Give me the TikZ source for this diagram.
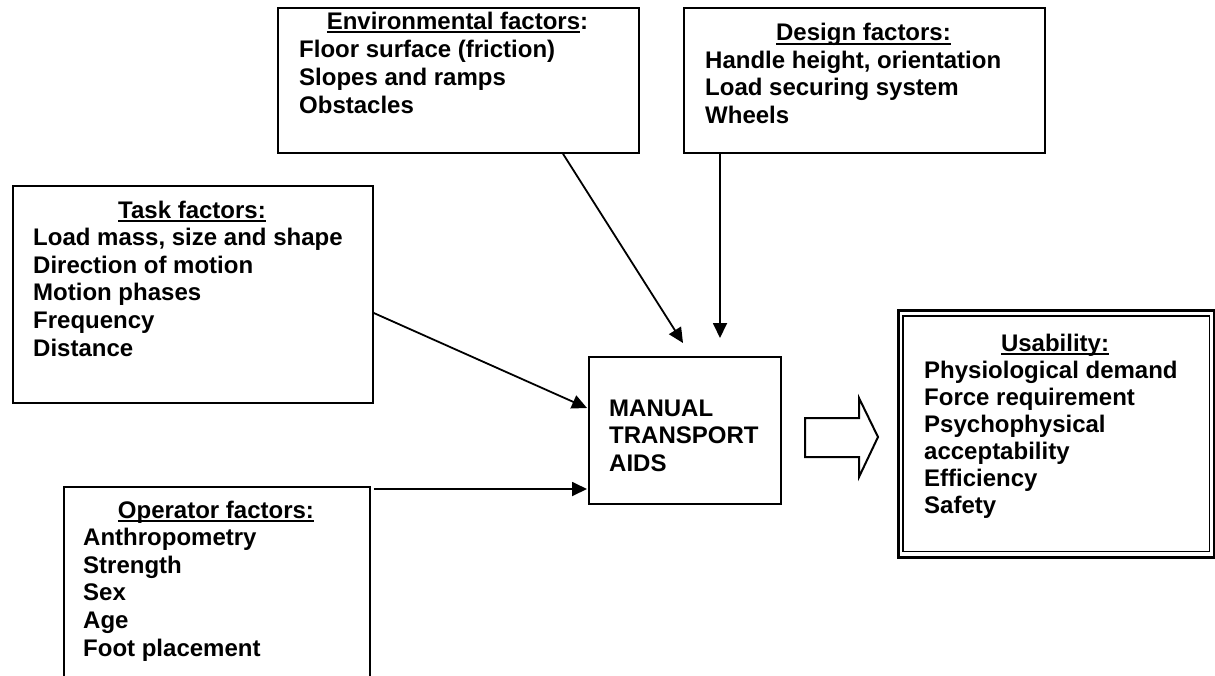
\documentclass[tikz,border=0pt]{standalone}
\usepackage{fontspec}
\setmainfont{Liberation Sans}
\usetikzlibrary{calc,arrows.meta}
\newsavebox\ulsave
\newcommand{\ulbox}[1]{\sbox\ulsave{#1}\rlap{\rule[-4.2pt]{\wd\ulsave}{1.8pt}}\usebox\ulsave}
\begin{document}
\begin{tikzpicture}[x=1pt,y=-1pt,
  box/.style={draw, line width=1.8pt, inner sep=0pt, anchor=north west},
  txt/.style={font=\fontsize{24}{27.6}\selectfont\bfseries, inner sep=0pt, anchor=base west},
  ttl/.style={txt, anchor=base},
  conn/.style={line width=1.8pt, -{Triangle[length=15pt,width=14pt]}},
  hollow/.style={draw, line width=2pt, line join=miter}]
\useasboundingbox (0,0) rectangle (1215,675);

% boxes
\node[box, minimum width=361pt, minimum height=145pt] (env) at (277,7) {};
\node[box, minimum width=361pt, minimum height=145pt] (design) at (683,7) {};
\node[box, minimum width=360pt, minimum height=217pt] (task) at (12,185) {};
\node[box, minimum width=306pt, minimum height=220pt] (oper) at (63,486) {};
\node[box, minimum width=192pt, minimum height=147pt] (center) at (588,356) {};
\node[draw, line width=2.7pt, inner sep=0pt, anchor=north west,
      minimum width=316pt, minimum height=247pt] (usab) at (897,309) {};
\draw[line width=1.5pt] ($(usab.north west)+(6,7)$) rectangle ($(usab.south east)+(-6,-7)$);

% environmental
\node[ttl] (env-t) at (457.5,29) {\ulbox{Environmental factors}:};
\foreach \s [count=\i] in {Floor surface (friction), Slopes and ramps, Obstacles}
  \node[txt] (env-\i) at (299,29+28*\i) {\s};

% design
\node[ttl] (design-t) at (863.5,40.5) {\ulbox{Design factors:}};
\foreach \s [count=\i] in {{Handle height, orientation}, Load securing system, Wheels}
  \node[txt] (design-\i) at (705,40.5+27.6*\i) {\s};

% task
\node[ttl] (task-t) at (192,218) {\ulbox{Task factors:}};
\foreach \s [count=\i] in {{Load mass, size and shape}, Direction of motion, Motion phases, Frequency, Distance}
  \node[txt] (task-\i) at (33,218+27.6*\i) {\s};

% operator
\node[ttl] (oper-t) at (216,518) {\ulbox{Operator factors:}};
\foreach \s [count=\i] in {Anthropometry, Strength, Sex, Age, Foot placement}
  \node[txt] (oper-\i) at (83,518+27.6*\i) {\s};

% centre
\foreach \s [count=\i] in {MANUAL, TRANSPORT, AIDS}
  \node[txt] (center-\i) at (609,388.2+27.8*\i) {\s};

% usability
\node[ttl] (usab-t) at (1055,351) {\ulbox{Usability:}};
\foreach \s [count=\i] in {Physiological demand, Force requirement, Psychophysical, acceptability, Efficiency, Safety}
  \node[txt] (usab-\i) at (924,351+27*\i) {\s};

% connectors
\coordinate (envin) at ($(center.north west)+(95,-13)$);
\coordinate (designin) at ($(center.north west)+(132,-18)$);
\draw[conn] ($(env.south west)+(286,0)$) -- (envin);
\draw[conn] ($(design.south west)+(37,0)$) -- (designin);
\draw[conn] ($(task.north east)+(0,128)$) -- ($(center.north west)+(-1,52)$);
\draw[conn] ($(oper.north east)+(3,3)$) -- ($(center.north west)+(-1,133)$);

% hollow arrow
\draw[hollow] (805,418) -- (859,418) -- (859,398) -- (878,437) -- (859,477)
  -- (859,457) -- (805,457) -- cycle;
\end{tikzpicture}
\end{document}
